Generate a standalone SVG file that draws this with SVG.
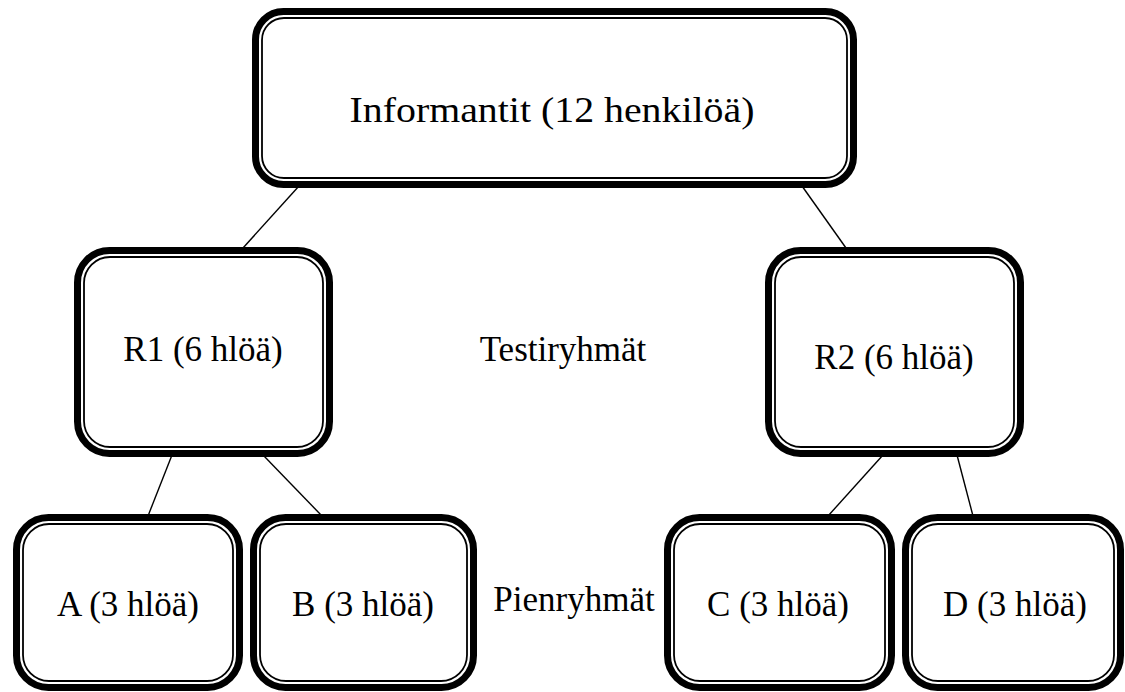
<svg xmlns="http://www.w3.org/2000/svg" width="1125" height="692" viewBox="0 0 1125 692">
<style>
.outer{fill:#fff;stroke:#000;stroke-width:7}
.inner{fill:none;stroke:#000;stroke-width:1.8}
.t{font-family:"Liberation Serif","Times New Roman",serif;fill:#000;text-anchor:middle;font-size:35px}
.c line{stroke:#000;stroke-width:1.4}
</style>
<rect width="1125" height="692" fill="#fff"/>
<g id="connectors" class="c">
<line x1="299" y1="186" x2="243" y2="248"/>
<line x1="802" y1="186" x2="846" y2="248"/>
<line x1="172" y1="455" x2="148" y2="516"/>
<line x1="263" y1="455" x2="322" y2="516"/>
<line x1="883" y1="455" x2="828" y2="516"/>
<line x1="957" y1="455" x2="973" y2="516"/>
</g>
<g id="top">
<rect class="outer" x="255.5" y="11.5" width="598" height="173" rx="28"/>
<rect class="inner" x="262" y="18" width="585" height="160" rx="22"/>
<text class="t" x="552" y="122" font-size="40" textLength="405" lengthAdjust="spacingAndGlyphs">Informantit (12 henkilöä)</text>
</g>
<g id="r1">
<rect class="outer" x="77.5" y="250.5" width="252" height="203" rx="32"/>
<rect class="inner" x="84" y="257" width="239" height="190" rx="26"/>
<text class="t" x="203" y="361">R1 (6 hlöä)</text>
</g>
<g id="label-testi">
<text class="t" x="563" y="361">Testiryhmät</text>
</g>
<g id="r2">
<rect class="outer" x="768.5" y="250.5" width="252" height="203" rx="32"/>
<rect class="inner" x="775" y="257" width="239" height="190" rx="26"/>
<text class="t" x="894" y="369">R2 (6 hlöä)</text>
</g>
<g id="a">
<rect class="outer" x="16.5" y="517.5" width="223" height="170" rx="32"/>
<rect class="inner" x="23" y="524" width="210" height="157" rx="26"/>
<text class="t" x="128" y="616">A (3 hlöä)</text>
</g>
<g id="b">
<rect class="outer" x="253.5" y="517.5" width="220" height="170" rx="32"/>
<rect class="inner" x="260" y="524" width="207" height="157" rx="26"/>
<text class="t" x="363" y="616">B (3 hlöä)</text>
</g>
<g id="label-pien">
<text class="t" x="574" y="611" font-size="29">Pienryhmät</text>
</g>
<g id="c">
<rect class="outer" x="667.5" y="517.5" width="224" height="170" rx="32"/>
<rect class="inner" x="674" y="524" width="211" height="157" rx="26"/>
<text class="t" x="778" y="616">C (3 hlöä)</text>
</g>
<g id="d">
<rect class="outer" x="905.5" y="517.5" width="215" height="170" rx="32"/>
<rect class="inner" x="912" y="524" width="202" height="157" rx="26"/>
<text class="t" x="1015" y="616">D (3 hlöä)</text>
</g>
</svg>
